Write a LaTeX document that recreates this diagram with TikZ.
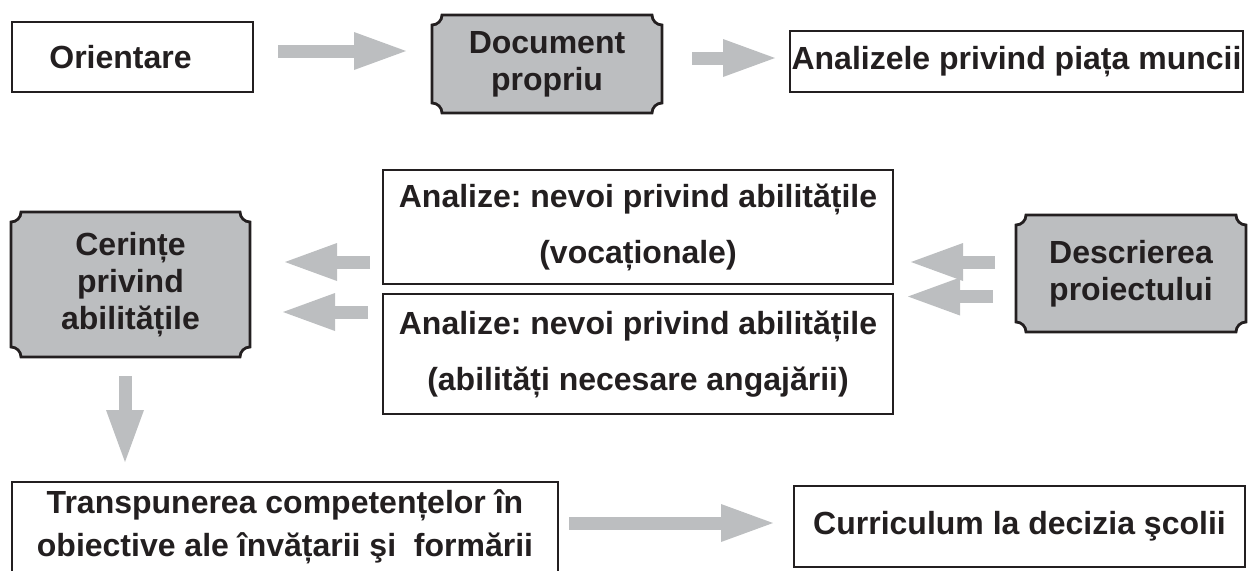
\documentclass[tikz,border=0pt]{standalone}
\usepackage{fontspec}
\setmainfont{Liberation Sans}
\usetikzlibrary{arrows.meta,backgrounds}

\definecolor{inkline}{RGB}{35,31,32}
\definecolor{plaquegray}{RGB}{188,190,192}
\def\rc{5pt}
\frenchspacing

\begin{document}
\begin{tikzpicture}[x=0.5pt, y=-0.5pt,
  every node/.style={font=\bfseries\fontsize{16pt}{18.5pt}\selectfont, text=inkline,
    align=center, inner sep=0pt, outer sep=0pt},
  box/.style={draw=inkline, line width=1.4pt},
  anbox/.style={font=\bfseries\fontsize{16pt}{28pt}\selectfont},
  plaqueline/.style={draw=inkline, fill=plaquegray, line width=1.4pt},
  blockarrow/.style={draw=plaquegray, line width=6.5pt,
    -{Triangle[length=26pt,width=19pt,line width=0pt]}}]
\useasboundingbox (0,0) rectangle (1248,570);

% top row
\node[box, minimum width=120.5pt, minimum height=35pt] (orient) at (132.5,57) {Orientare\hspace*{12pt}};
\node[minimum width=115pt, minimum height=49pt] (doc) at (547,64) {Document\\propriu};
\node[box, minimum width=226.5pt, minimum height=30.5pt] (anal) at (1016.5,61.5) {Analizele privind piața muncii};

% middle row
\node[minimum width=119.5pt, minimum height=72.5pt] (cer) at (130.5,284.5) {Cerințe\\privind\\abilitățile};
\node[box, anbox, minimum width=255pt, minimum height=57pt] (an1) at (638,227)
  {Analize: nevoi privind abilitățile\\(vocaționale)};
\node[box, anbox, minimum width=255pt, minimum height=60pt] (an2) at (638,354)
  {Analize: nevoi privind abilitățile\\(abilități necesare angajării)};
\node[minimum width=115pt, minimum height=58.5pt] (desc) at (1131,273.5) {Descrierea\\proiectului};

% bottom row
\node[box, font=\bfseries\fontsize{16pt}{21.5pt}\selectfont, minimum width=273pt, minimum height=45pt]
  (trans) at (285,527) {Transpunerea competențelor în\\obiective ale învățarii şi~ formării};
\node[box, minimum width=225.5pt, minimum height=40.5pt] (curr) at (1019.5,526.5) {Curriculum la decizia şcolii};

% plaques with cut corners
\begin{scope}[on background layer]
\foreach \n in {doc,cer,desc}
  \draw[plaqueline] ([xshift=\rc]\n.north west) -- ([xshift=-\rc]\n.north east)
    arc[start angle=180, end angle=270, radius=\rc]
    -- ([yshift=\rc]\n.south east)
    arc[start angle=90, end angle=180, radius=\rc]
    -- ([xshift=\rc]\n.south west)
    arc[start angle=0, end angle=90, radius=\rc]
    -- ([yshift=-\rc]\n.north west)
    arc[start angle=270, end angle=360, radius=\rc] -- cycle;
\end{scope}

% arrows
\draw[blockarrow, shorten <=12.5pt, shorten >=13pt] ([yshift=3pt]orient.east) -- ([yshift=6.5pt]doc.west);
\draw[blockarrow, shorten <=15pt, shorten >=7.5pt] ([yshift=3pt]doc.east) -- ([yshift=1.75pt]anal.west);
\draw[blockarrow, shorten <=6.5pt, shorten >=17.5pt] ([yshift=-17.5pt]an1.west) -- ([yshift=11.25pt]cer.east);
\draw[blockarrow, shorten <=7.5pt, shorten >=16.5pt] ([yshift=21pt]an2.west) -- ([yshift=-13.75pt]cer.east);
\draw[blockarrow, shorten <=10.5pt, shorten >=9pt] ([yshift=5.75pt]desc.west) -- ([yshift=-17.5pt]an1.east);
\draw[blockarrow, shorten <=11.5pt, shorten >=7.5pt] ([yshift=-11.5pt]desc.west) -- ([yshift=28.75pt]an2.east);
\draw[blockarrow, shorten <=9.5pt, shorten >=10pt] ([xshift=-2.75pt]cer.south) -- ([xshift=-80pt]trans.north);
\draw[blockarrow, shorten <=5.5pt, shorten >=10.5pt] ([yshift=2pt]trans.east) -- ([yshift=1.75pt]curr.west);
\end{tikzpicture}
\end{document}
